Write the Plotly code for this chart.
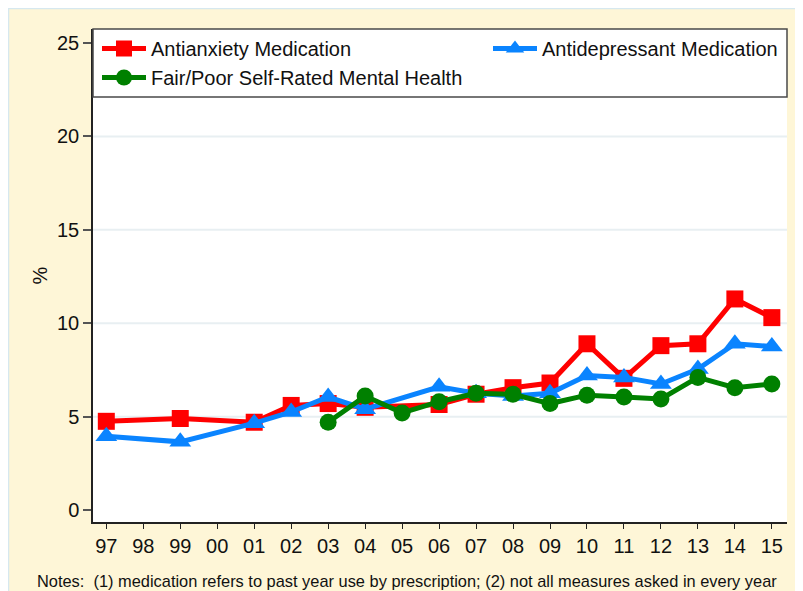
import plotly.graph_objects as go

years = ["97", "98", "99", "00", "01", "02", "03", "04", "05", "06",
         "07", "08", "09", "10", "11", "12", "13", "14", "15"]
antianxiety = [4.75, None, 4.9, None, 4.7, 5.6, 5.7, 5.5, None, 5.65,
               6.2, 6.55, 6.8, 8.9, 7.05, 8.8, 8.9, 11.3, 10.3]
antidepressant = [3.95, None, 3.65, None, 4.65, 5.25, 6.05, 5.4, None, 6.6,
                  6.25, 6.1, 6.25, 7.2, 7.1, 6.75, 7.55, 8.9, 8.75]
fairpoor = [None, None, None, None, None, None, 4.7, 6.1, 5.2, 5.8,
            6.25, 6.2, 5.7, 6.15, 6.05, 5.95, 7.1, 6.55, 6.75]
y_ticks = [0, 5, 10, 15, 20, 25]
grid_values = [5, 10, 15, 20, 25]
note = "Notes:  (1) medication refers to past year use by prescription; (2) not all measures asked in every year"

FONT = "Arial, Liberation Sans, sans-serif"
OFF = 8  # page body margin
W, H = 803 - OFF, 591 - OFF
L, R, T, B = 93 - OFF, 16, 29 - OFF, 69
PW, PH = W - L - R, H - T - B

def px_x(p):
    # p is a page pixel x
    return (p - OFF - L) / PW

def px_y(p):
    return (H - B - (p - OFF)) / PH

fig = go.Figure()
fig.add_trace(go.Scatter(x=years, y=antianxiety, name="Antianxiety Medication",
                         mode="lines+markers", connectgaps=True, legend="legend",
                         line=dict(color="#FF0000", width=5),
                         marker=dict(symbol="square", size=17, color="#FF0000")))
fig.add_trace(go.Scatter(x=years, y=antidepressant, name="Antidepressant Medication",
                         mode="lines+markers", connectgaps=True, legend="legend2",
                         line=dict(color="#0A84FF", width=5),
                         marker=dict(symbol="triangle-up", size=19, color="#0A84FF")))
fig.add_trace(go.Scatter(x=years, y=fairpoor, name="Fair/Poor Self-Rated Mental Health",
                         mode="lines+markers", connectgaps=True, legend="legend",
                         line=dict(color="#008000", width=5),
                         marker=dict(symbol="circle", size=17, color="#008000")))

shapes = []
shapes.append(dict(type="line", xref="paper", yref="paper", x0=px_x(OFF), x1=px_x(803),
                   y0=px_y(OFF + 0.5), y1=px_y(OFF + 0.5), line=dict(color="#D6E8EF", width=1.5), layer="below"))
shapes.append(dict(type="line", xref="paper", yref="paper", x0=px_x(OFF + 0.5), x1=px_x(OFF + 0.5),
                   y0=px_y(OFF), y1=px_y(591), line=dict(color="#D6E8EF", width=1.5), layer="below"))
for g in grid_values:
    shapes.append(dict(type="line", xref="paper", yref="y", x0=0, x1=1, y0=g, y1=g,
                       line=dict(color="#E8EFF2", width=2), layer="below"))
# legend box
shapes.append(dict(type="rect", xref="paper", yref="paper", x0=0, x1=1,
                   y0=px_y(97), y1=1, fillcolor="white",
                   line=dict(color="#4A4A4A", width=1.5), layer="above"))

legend_common = dict(orientation="v", y=1, xanchor="left", yanchor="top",
                     bgcolor="rgba(0,0,0,0)", borderwidth=0,
                     font=dict(family=FONT, size=20, color="#111111"),
                     itemwidth=44, traceorder="normal", tracegroupgap=0)

fig.update_layout(
    width=W, height=H,
    margin=dict(l=L, r=R, t=T, b=B, autoexpand=False),
    paper_bgcolor="#FEF6D7",
    plot_bgcolor="white",
    font=dict(family=FONT, size=20, color="black"),
    shapes=shapes,
    showlegend=True,
    legend=dict(x=px_x(97), **legend_common),
    legend2=dict(x=px_x(488), **legend_common),
    xaxis=dict(type="category", categoryorder="array", categoryarray=years,
               range=[-0.36, 18.41], showgrid=False, zeroline=False,
               showline=True, linecolor="#222222", linewidth=1.5,
               ticks="outside", ticklen=5, tickcolor="#222222", tickwidth=1,
               tickfont=dict(family=FONT, size=20, color="#111111")),
    yaxis=dict(range=[-0.64, 25.75], tickvals=y_ticks, showgrid=False, zeroline=False,
               showline=True, linecolor="#222222", linewidth=1.5,
               ticks="outside", ticklen=8, tickcolor="#555555", tickwidth=1.5,
               tickfont=dict(family=FONT, size=20, color="#111111"),
               title=dict(text="%", font=dict(family=FONT, size=20, color="#111111"), standoff=4)),
    annotations=[dict(text=note, xref="paper", yref="paper", x=px_x(35), y=px_y(581),
                      xanchor="left", yanchor="middle", showarrow=False,
                      font=dict(family=FONT, size=16.4, color="#111111"))],
)

fig.write_html("out.html")
